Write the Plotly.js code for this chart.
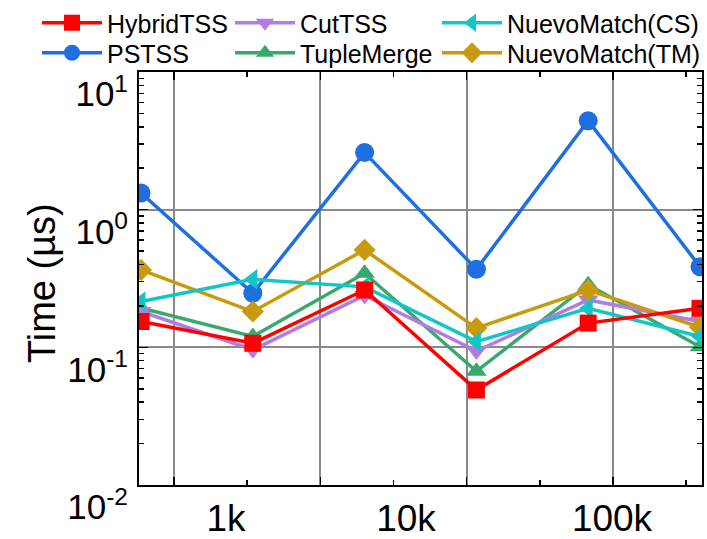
<!DOCTYPE html>
<html>
<head>
<meta charset="utf-8">
<script src="https://cdn.plot.ly/plotly-3.0.1.min.js"></script>
<style>html,body{margin:0;padding:0;background:#fff;}#chart{width:707px;height:539px;}</style>
</head>
<body>
<div id="chart"></div>
<script>
// dataset positions (evenly spaced along the x axis)
const datasetIndex = [0, 1, 2, 3, 4, 5];
const xTickLabels = ["1k", "10k", "100k"];
const yTickValues = [0.01, 0.1, 1, 10];
const yTickLabels = ["10<sup>-2</sup>", "10<sup>-1</sup>", "10<sup>0</sup>", "10<sup>1</sup>"];
const yTitle = "Time (µs)";

const seriesNames = ["HybridTSS", "PSTSS", "CutTSS", "TupleMerge", "NuevoMatch(CS)", "NuevoMatch(TM)"];
const hybridTSS     = [0.154, 0.107, 0.261, 0.049, 0.150, 0.192];
const psTSS         = [1.32, 0.247, 2.6, 0.369, 4.43, 0.385];
const cutTSS        = [0.182, 0.096, 0.238, 0.094, 0.221, 0.154];
const tupleMerge    = [0.193, 0.12, 0.345, 0.067, 0.285, 0.101];
const nuevoMatchCS  = [0.215, 0.312, 0.275, 0.110, 0.192, 0.120];
const nuevoMatchTM  = [0.365, 0.182, 0.51, 0.138, 0.261, 0.140];

const font = "Liberation Sans, Arial, Helvetica, sans-serif";

function series(name, y, color, symbol, legend, size, xaxis) {
  return {
    type: "scatter", mode: "lines+markers", name: name,
    x: datasetIndex, y: y, xaxis: xaxis || "x",
    line: {color: color, width: 3.5},
    marker: {color: color, symbol: symbol, size: size || 18},
    legend: legend, cliponaxis: true
  };
}

// drawing order: blue, green, purple, gold, cyan, red (red on top)
const data = [
  series(seriesNames[1], psTSS, "#1f6fe0", "circle", "legend4", 19),
  series(seriesNames[3], tupleMerge, "#3aa86c", "triangle-up", "legend5"),
  series(seriesNames[2], cutTSS, "#b07de2", "triangle-down", "legend2"),
  series(seriesNames[5], nuevoMatchTM, "#c99a0e", "diamond", "legend6", 17),
  series(seriesNames[4], nuevoMatchCS, "#12c6c6", "triangle-left", "legend3"),
  series(seriesNames[0], hybridTSS, "#ff0000", "square", "legend", 17, "x2")
];

function legendAt(xpx, topPx) {
  return {
    orientation: "v", xref: "container", yref: "container",
    xanchor: "left", yanchor: "top", x: xpx / 707, y: 1 - topPx / 539,
    bgcolor: "rgba(0,0,0,0)", borderwidth: 0,
    font: {family: font, size: 25, color: "#000"},
    itemwidth: 60, itemclick: false
  };
}

const layout = {
  width: 707, height: 539,
  margin: {l: 139, r: 5, t: 72, b: 54, autoexpand: false},
  paper_bgcolor: "#fff", plot_bgcolor: "#fff",
  font: {family: font, color: "#000"},
  showlegend: true,
  legend: legendAt(37, 0),
  legend2: legendAt(230, 0),
  legend3: legendAt(437, 0),
  legend4: legendAt(37, 30),
  legend5: legendAt(230, 30),
  legend6: legendAt(437, 30),
  xaxis: {
    type: "linear", range: [-0.018, 5.018],
    tickmode: "linear", tick0: 0.295, dtick: 1.309,
    ticks: "inside", ticklen: 8, tickwidth: 1.5, tickcolor: "#000",
    showticklabels: false,
    showgrid: true, gridcolor: "#8a8a8a", gridwidth: 2,
    minor: {tick0: 0.295, dtick: 0.6545, ticks: "inside", ticklen: 5, tickwidth: 1.5, tickcolor: "#000", showgrid: false},
    showline: true, linecolor: "#000", linewidth: 2, mirror: "ticks",
    zeroline: false
  },
  xaxis2: {
    overlaying: "x", anchor: "y", side: "bottom",
    type: "linear", range: [-0.018, 5.018],
    tickmode: "array", tickvals: [0.76, 2.37, 4.213], ticktext: xTickLabels,
    ticks: "", showgrid: false, showline: false, zeroline: false,
    tickfont: {family: font, size: 37, color: "#000"},
    ticklabelstandoff: 8
  },
  yaxis: {
    type: "log", range: [-2, 1],
    tickmode: "array", tickvals: yTickValues, ticktext: yTickLabels,
    ticks: "inside", ticklen: 9, tickwidth: 1.5, tickcolor: "#000",
    tickfont: {family: font, size: 35, color: "#000"},
    ticklabelshift: 22, ticklabelstandoff: 2,
    minor: {dtick: "D1", ticks: "inside", ticklen: 5, tickwidth: 1.5, tickcolor: "#000", showgrid: false},
    showgrid: true, gridcolor: "#8a8a8a", gridwidth: 2,
    showline: true, linecolor: "#000", linewidth: 2, mirror: "ticks",
    zeroline: false
  },
  annotations: [{
    text: yTitle, xref: "paper", yref: "paper",
    x: -0.1723, y: 0.489, xanchor: "center", yanchor: "middle",
    textangle: -90, showarrow: false,
    font: {family: font, size: 38, color: "#000"}
  }]
};

Plotly.newPlot("chart", data, layout, {staticPlot: true});
</script>
</body>
</html>
